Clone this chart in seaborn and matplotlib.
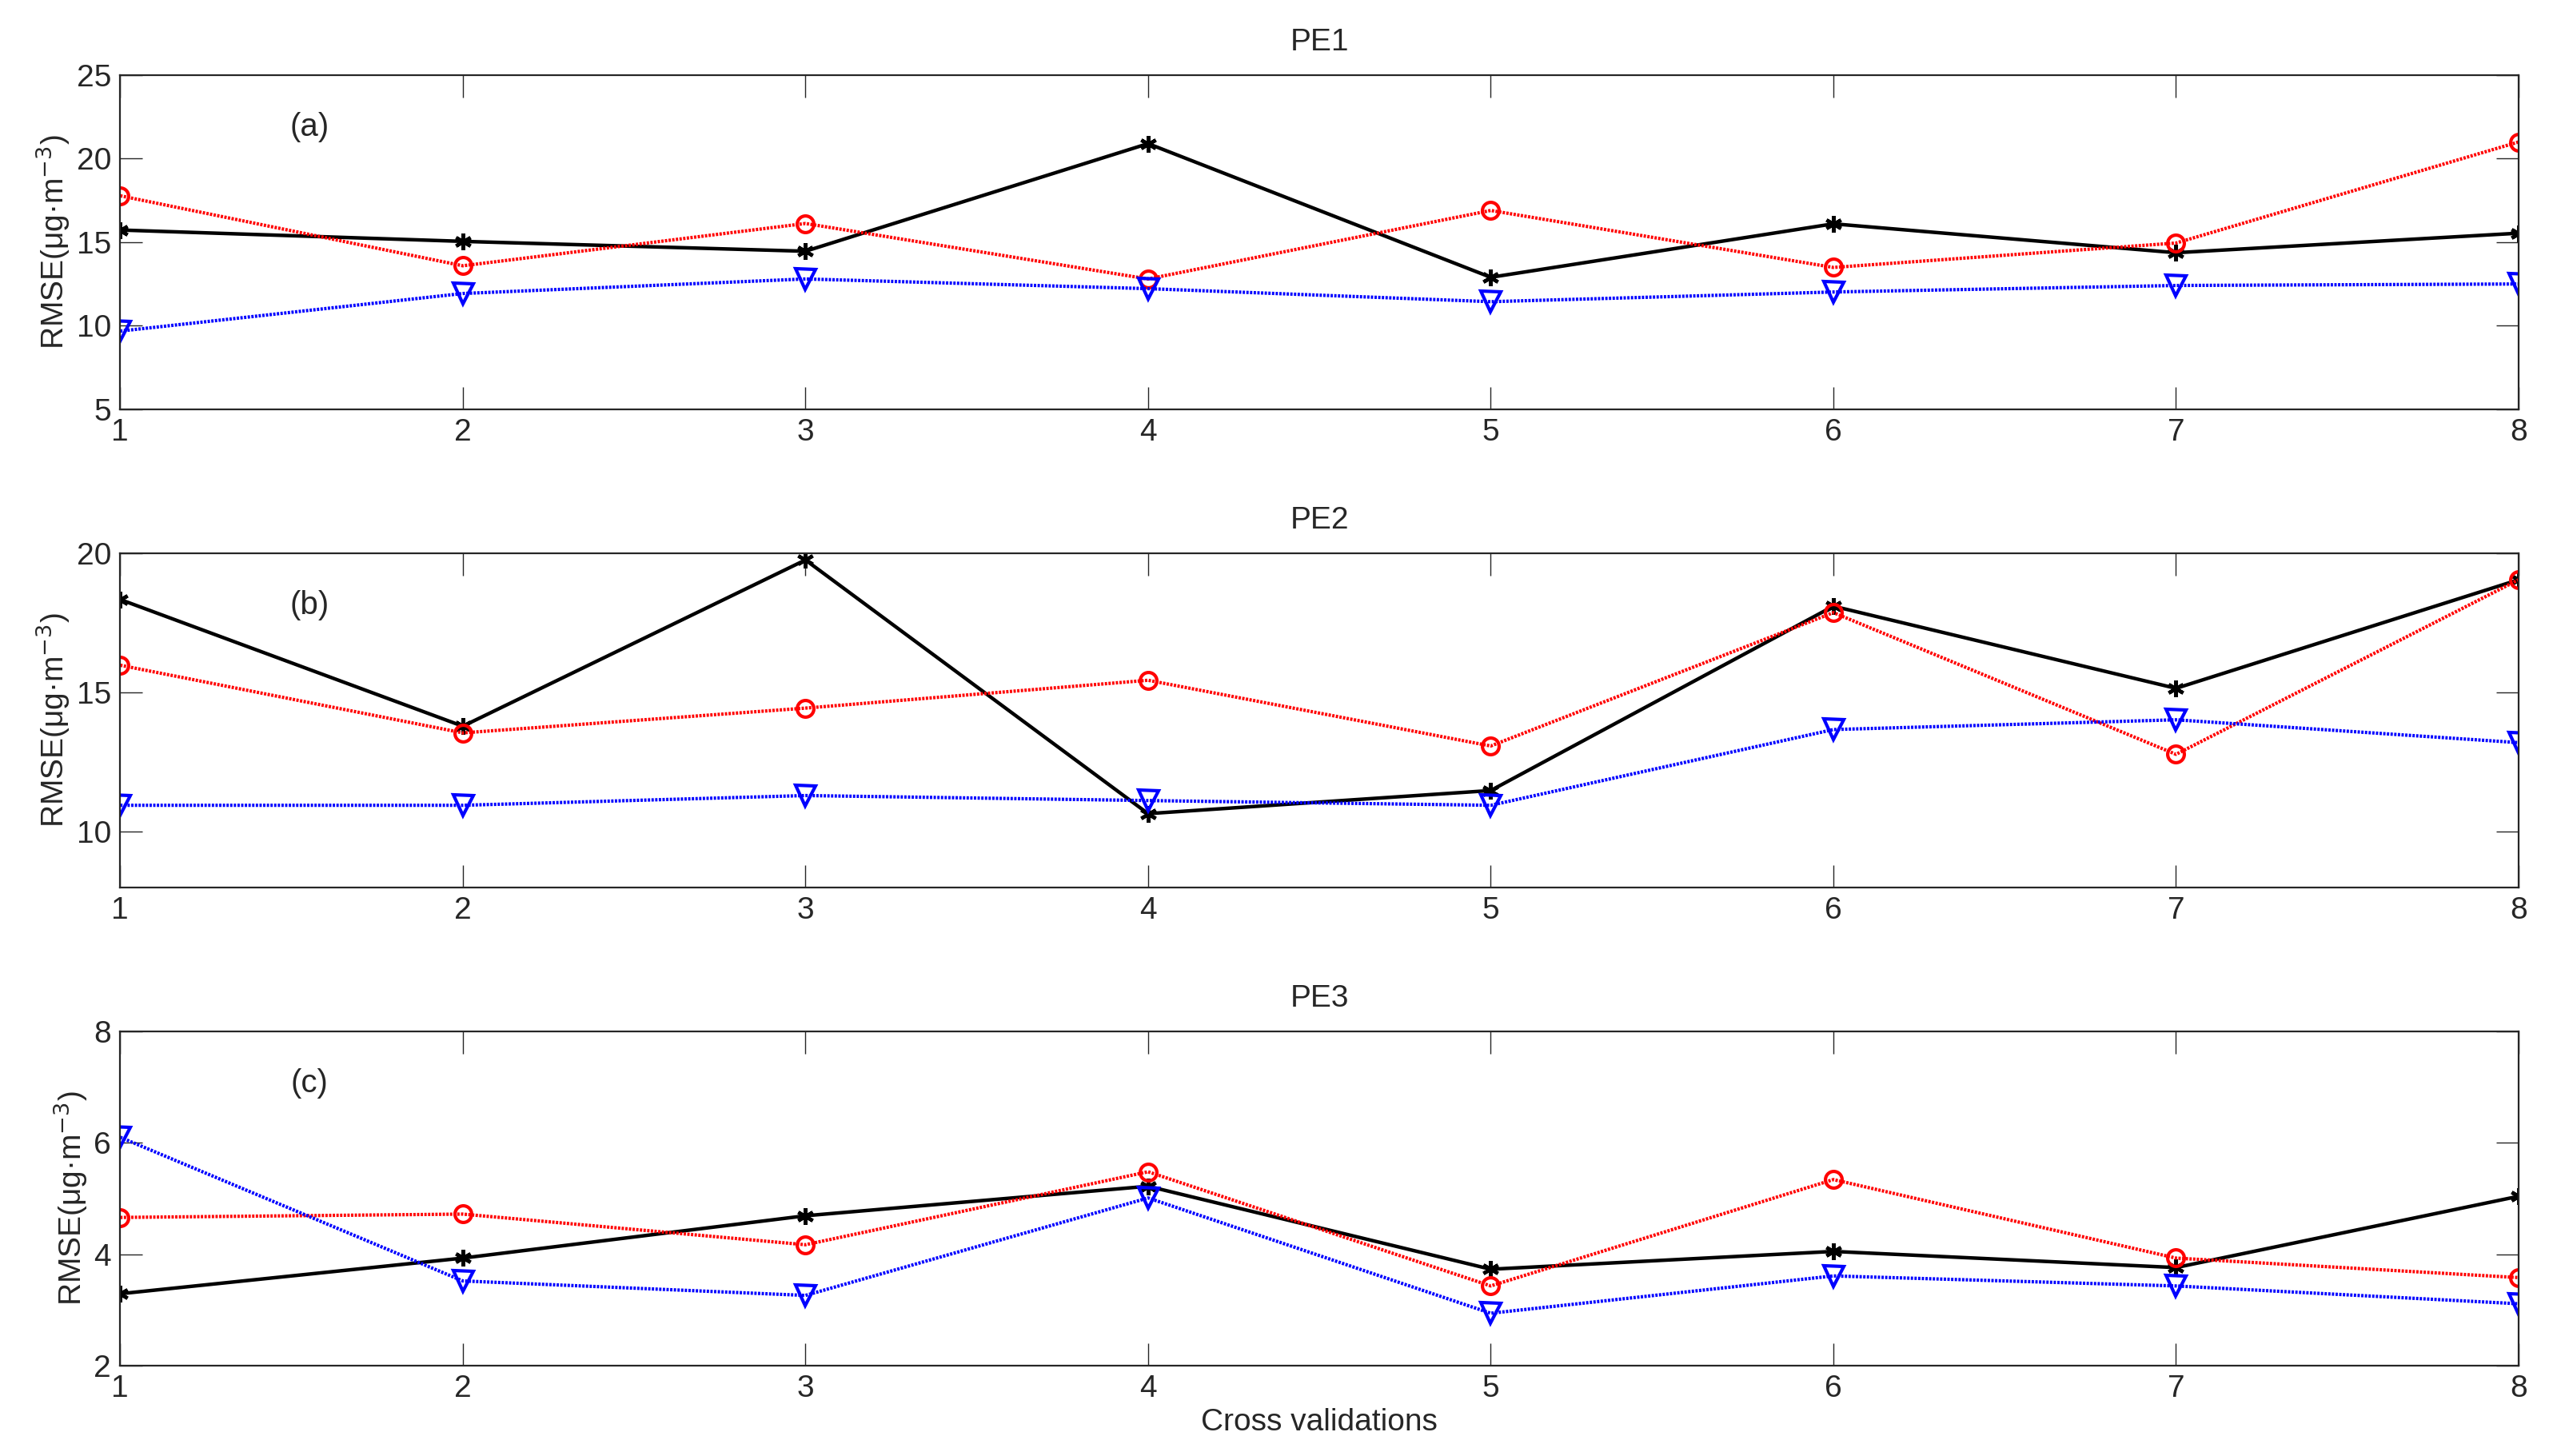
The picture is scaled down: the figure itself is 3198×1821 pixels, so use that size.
import numpy as np
import pandas as pd
import matplotlib
matplotlib.use('Agg')
import matplotlib.pyplot as plt
import seaborn as sns

# dados
cv = [1, 2, 3, 4, 5, 6, 7, 8]
titles = ['PE1', 'PE2', 'PE3']
tags = ['(a)', '(b)', '(c)']

pe1_black = [15.73, 15.05, 14.46, 20.9, 12.9, 16.1, 14.37, 15.54]
pe1_red = [17.78, 13.59, 16.12, 12.8, 16.9, 13.49, 14.95, 21.0]
pe1_blue = [9.68, 11.93, 12.8, 12.22, 11.44, 12.02, 12.41, 12.5]

pe2_black = [18.34, 13.79, 19.76, 10.65, 11.48, 18.1, 15.15, 19.05]
pe2_red = [15.98, 13.55, 14.44, 15.44, 13.08, 17.87, 12.78, 19.05]
pe2_blue = [10.95, 10.95, 11.3, 11.12, 10.95, 13.67, 14.02, 13.2]

pe3_black = [3.29, 3.93, 4.69, 5.22, 3.73, 4.05, 3.76, 5.04]
pe3_red = [4.66, 4.72, 4.17, 5.48, 3.43, 5.34, 3.93, 3.58]
pe3_blue = [6.1, 3.52, 3.26, 5.01, 2.94, 3.61, 3.43, 3.11]

ylims = [(5, 25), (8, 20), (2, 8)]
yticks = [[5, 10, 15, 20, 25], [10, 15, 20], [2, 4, 6, 8]]

panels = [
    (pe1_black, pe1_red, pe1_blue),
    (pe2_black, pe2_red, pe2_blue),
    (pe3_black, pe3_red, pe3_blue),
]

sns.set_style('ticks')
plt.rcParams['font.family'] = ['Liberation Sans', 'DejaVu Sans']

fig = plt.figure(figsize=(15.99, 9.105), dpi=200)
tops = [0.9484, 0.620, 0.2916]
h = 0.2295
left, width = 0.047, 0.938
dots = (0, (0.7, 0.4))

for i, (blk, red, blu) in enumerate(panels):
    ax = fig.add_axes([left, tops[i] - h, width, h])
    # preto: linha continua com asterisco
    sns.lineplot(x=cv, y=blk, ax=ax, color='black', linewidth=1.6,
                 marker=(6, 2, 0), markersize=7.5, markeredgecolor='black',
                 markeredgewidth=1.6, zorder=3)
    # vermelho: pontilhado com circulo
    sns.lineplot(x=cv, y=red, ax=ax, color='red', linewidth=1.5,
                 linestyle=dots, marker='o', markersize=7.5,
                 markerfacecolor='none', markeredgecolor='red',
                 markeredgewidth=1.5, zorder=3)
    # azul: pontilhado com triangulo
    sns.lineplot(x=cv, y=blu, ax=ax, color='blue', linewidth=1.5,
                 linestyle=dots, marker='v', markersize=9,
                 markerfacecolor='none', markeredgecolor='blue',
                 markeredgewidth=1.5, zorder=3)
    ax.set_xlim(1, 8)
    ax.set_ylim(*ylims[i])
    ax.set_xticks(cv)
    ax.set_yticks(yticks[i])
    ax.tick_params(direction='in', top=True, right=True, length=10,
                   width=0.5, labelsize=14, pad=4)
    for s in ax.spines.values():
        s.set_linewidth(0.8)
        s.set_zorder(4)
    ax.set_title(titles[i], fontsize=14, pad=11)
    ax.set_ylabel('RMSE(μg·m$^{-3}$)', fontsize=14, labelpad=2)
    ax.text(0.079, 0.845, tags[i], transform=ax.transAxes, fontsize=14.5,
            ha='center', va='center')
    if i == 2:
        ax.set_xlabel('Cross validations', fontsize=14, labelpad=2)

fig.savefig('out.png', dpi=200, facecolor='white')
